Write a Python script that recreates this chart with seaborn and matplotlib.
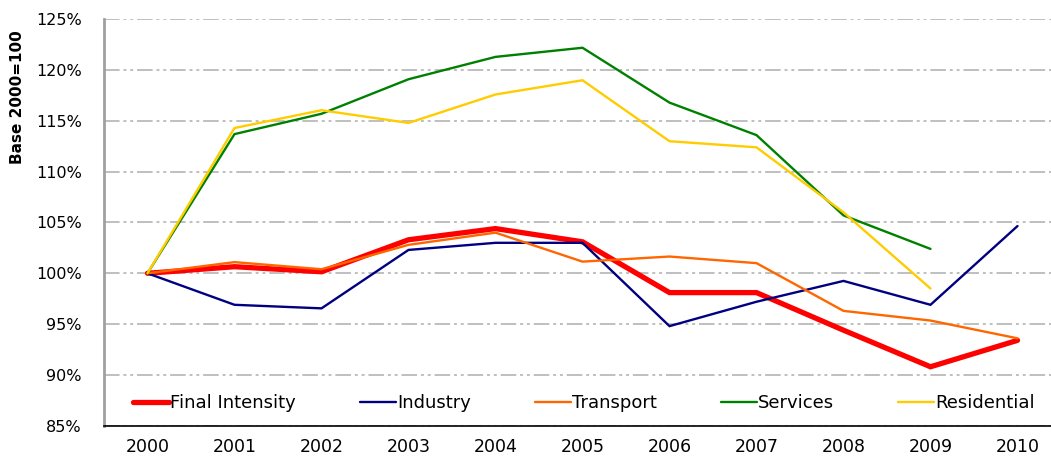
import matplotlib
matplotlib.use("Agg")
import matplotlib.pyplot as plt
import matplotlib.ticker as mticker
import seaborn as sns
import pandas as pd
import numpy as np

years = [2000, 2001, 2002, 2003, 2004, 2005, 2006, 2007, 2008, 2009, 2010]
final_intensity = [100, 100.65, 100.15, 103.3, 104.4, 103.1, 98.1, 98.1, 94.4, 90.8, 93.4]
industry = [100, 96.9, 96.55, 102.3, 103.0, 103.0, 94.8, 97.2, 99.25, 96.9, 104.65]
transport = [100, 101.1, 100.4, 102.8, 104.0, 101.15, 101.65, 101.0, 96.3, 95.35, 93.6]
services = [100, 113.7, 115.7, 119.1, 121.3, 122.2, 116.8, 113.6, 105.7, 102.4, np.nan]
residential = [100, 114.3, 116.05, 114.8, 117.6, 119.0, 113.0, 112.4, 106.0, 98.5, np.nan]

series = {
    "Final Intensity": final_intensity,
    "Industry": industry,
    "Transport": transport,
    "Services": services,
    "Residential": residential,
}
colors = {
    "Final Intensity": "#FF0000",
    "Industry": "#000080",
    "Transport": "#FF6600",
    "Services": "#008000",
    "Residential": "#FFCC00",
}
widths = {"Final Intensity": 3.8, "Industry": 1.7, "Transport": 1.7,
          "Services": 1.7, "Residential": 1.7}

sns.set_style("white")
plt.rcParams['font.family'] = ['Liberation Sans Narrow', 'DejaVu Sans Condensed', 'DejaVu Sans']
plt.rcParams['text.color'] = 'black'
plt.rcParams['xtick.labelcolor'] = 'black'
plt.rcParams['ytick.labelcolor'] = 'black'

fig = plt.figure(figsize=(10.51, 4.59), dpi=100)
ax = fig.add_axes([104 / 1051, 1 - 425.7 / 459, 957 / 1051, (425.7 - 19.3) / 459])

for name, vals in series.items():
    df = pd.DataFrame({"year": years, "value": vals})
    sns.lineplot(data=df, x="year", y="value", ax=ax, color=colors[name],
                 linewidth=widths[name], label=name, solid_joinstyle="miter")

ax.set_xlim(1999.5, 2010.5)
ax.set_ylim(85, 125)
ax.set_yticks(np.arange(85, 126, 5))
ax.yaxis.set_major_formatter(mticker.FuncFormatter(lambda v, p: f"{v:.0f}%"))
ax.set_xticks(years)
ax.set_xticks(np.arange(1999.5, 2011, 1), minor=True)
ax.tick_params(axis="x", which="major", length=0, labelsize=12.5, pad=9)
ax.tick_params(axis="x", which="minor", length=6, width=1, color="black", direction="out")
ax.tick_params(axis="y", which="major", length=3, width=1.5, color="#A0A0A0",
               direction="out", labelsize=11.5, pad=13)

ax.grid(axis="y", color="#BFBFBF", linewidth=1.4, linestyle=(0, (8, 2, 1.5, 2, 1.5, 2)))
ax.set_axisbelow(True)
for s in ["top", "right"]:
    ax.spines[s].set_visible(False)
ax.spines["left"].set_color("#A0A0A0")
ax.spines["left"].set_linewidth(2)
ax.spines["bottom"].set_color("black")
ax.spines["bottom"].set_linewidth(1.2)

ax.set_xlabel("")
ax.set_ylabel("")
fig.text(18 / 1051, 1 - 97 / 459, "Base 2000=100", rotation=90, fontweight="bold",
         fontsize=11, ha="center", va="center")

leg = ax.legend(loc="center", bbox_to_anchor=(584 / 1051, 1 - 403 / 459),
                bbox_transform=fig.transFigure, ncol=5, frameon=False,
                fontsize=13, handlelength=2.0, handletextpad=0.05, columnspacing=3.55)

plt.savefig("out.png", dpi=100)
